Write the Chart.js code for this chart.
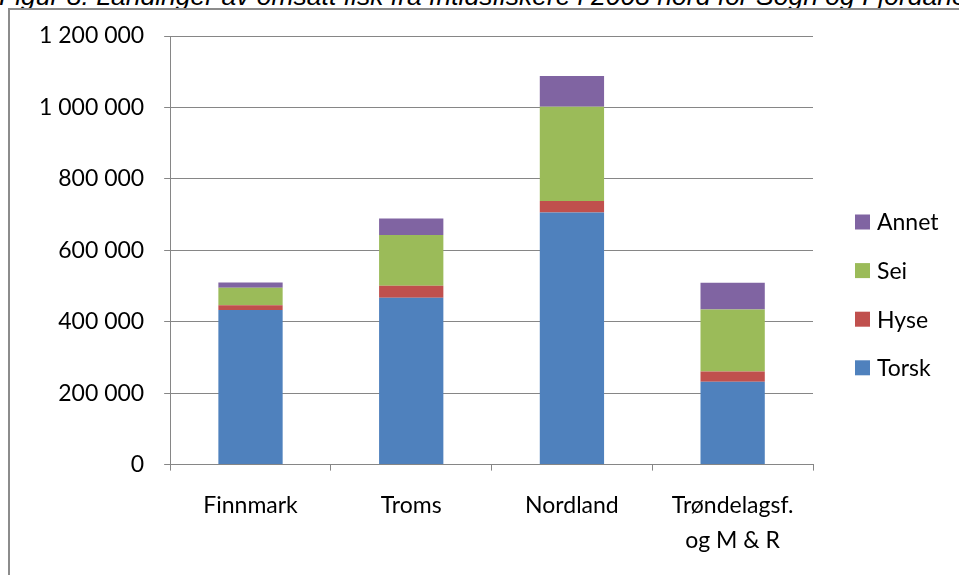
<!DOCTYPE html>
<html>
<head>
<meta charset="utf-8">
<script src="https://cdn.jsdelivr.net/npm/chart.js@4"></script>
<style>
  html, body { margin: 0; padding: 0; background: #fff; overflow: hidden; }
  #wrap { position: relative; width: 959px; height: 575px; overflow: hidden; }
  #title {
    position: absolute; left: -1px; top: -19px; white-space: nowrap;
    font: italic 26.5px "Liberation Sans", Arial, sans-serif; color: #000;
  }
  #frame {
    position: absolute; left: 8px; top: 8px; width: 1000px; height: 1000px;
    border-left: 2px solid #8c8c8c; border-top: 2px solid #8c8c8c;
  }
  canvas { position: absolute; left: 0; top: 0; }
</style>
</head>
<body>
<div id="wrap">
  <div id="title">Figur 8. Landinger av omsatt fisk fra fritidsfiskere i 2008 nord for Sogn og Fjordane</div>
  <div id="frame"></div>
  <canvas id="myChart" width="959" height="575"></canvas>
</div>
<script>
const labels = ["Finnmark", "Troms", "Nordland", ["Trøndelagsf.", "og M & R"]];
const torsk = [433000, 467000, 706000, 232000];
const hyse = [13000, 34000, 32000, 29000];
const sei = [49000, 142000, 264000, 173000];
const annet = [15000, 46000, 86000, 75000];
const yTickLabels = ["0", "200 000", "400 000", "600 000", "800 000", "1 000 000", "1 200 000"];

const axisColor = "#868686";
const fontFamily = "Lato, 'Open Sans', sans-serif";
const fontSize = 23;

// legend on the right, drawn in reverse order like the original
const sideLegend = {
  id: "sideLegend",
  afterDraw(chart) {
    const ctx = chart.ctx;
    const items = chart.data.datasets.slice().reverse();
    const x = chart.chartArea.right + 42;
    let y = 222;
    ctx.save();
    ctx.font = fontSize + "px " + fontFamily;
    ctx.textBaseline = "middle";
    items.forEach((ds) => {
      ctx.fillStyle = ds.backgroundColor;
      ctx.fillRect(x, y - 7.5, 15, 15);
      ctx.fillStyle = "#000";
      ctx.fillText(ds.label, x + 22, y + 1);
      y += 48.6;
    });
    ctx.restore();
  },
};

const ctx = document.getElementById("myChart").getContext("2d");
const myChart = new Chart(ctx, {
  type: "bar",
  data: {
    labels: labels,
    datasets: [
      { label: "Torsk", data: torsk, backgroundColor: "#4F81BD" },
      { label: "Hyse", data: hyse, backgroundColor: "#C0504D" },
      { label: "Sei", data: sei, backgroundColor: "#9BBB59" },
      { label: "Annet", data: annet, backgroundColor: "#8064A2" },
    ],
  },
  options: {
    responsive: false,
    animation: false,
    layout: { padding: { left: 19, top: 36, right: 146, bottom: 0 } },
    datasets: { bar: { barPercentage: 0.4, categoryPercentage: 1 } },
    plugins: { legend: { display: false }, tooltip: { enabled: false } },
    scales: {
      x: {
        stacked: true,
        grid: {
          offset: true,
          drawOnChartArea: false,
          color: axisColor,
          tickLength: 6,
        },
        border: { color: axisColor, width: 1 },
        ticks: {
          color: "#000",
          padding: 17,
          maxRotation: 0,
          font: { family: fontFamily, size: fontSize, lineHeight: 1.53 },
        },
      },
      y: {
        stacked: true,
        min: 0,
        max: 1200000,
        ticks: {
          stepSize: 200000,
          color: "#000",
          padding: 20,
          font: { family: fontFamily, size: fontSize },
          callback: (value, index) => yTickLabels[index],
        },
        grid: { color: axisColor, tickLength: 6 },
        border: { color: axisColor, width: 1 },
      },
    },
  },
  plugins: [sideLegend],
});
</script>
</body>
</html>
